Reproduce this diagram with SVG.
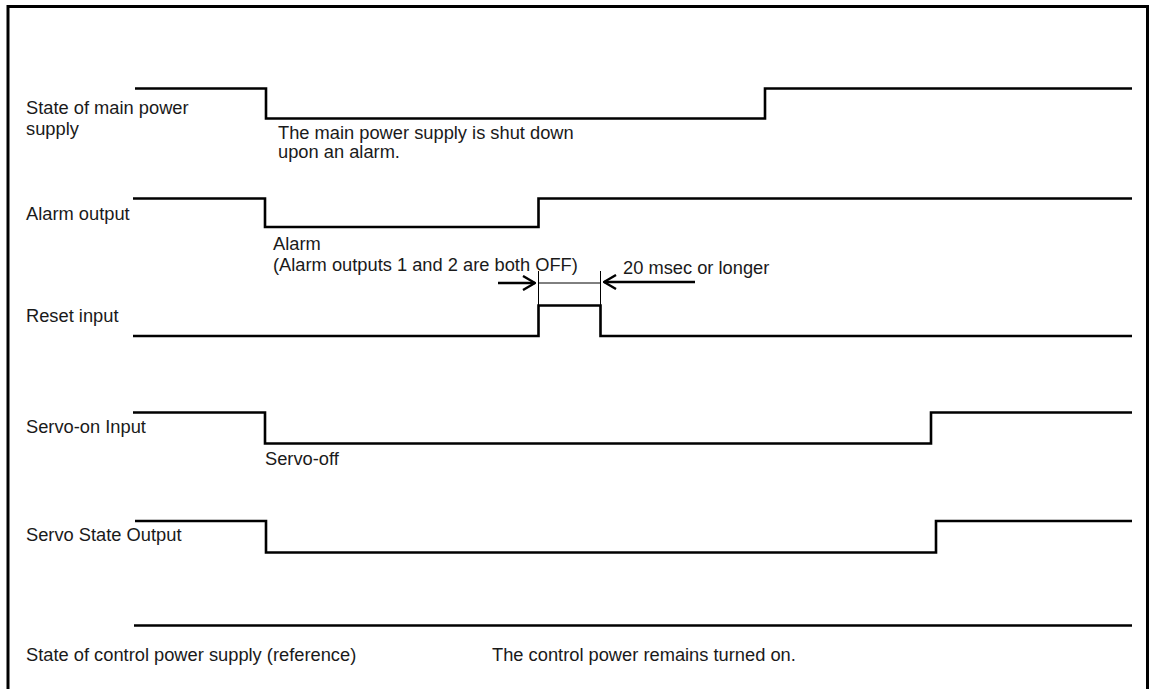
<svg xmlns="http://www.w3.org/2000/svg" width="1149" height="689" viewBox="0 0 1149 689">
<defs>
<marker id="chev" viewBox="0 0 14 16" refX="13" refY="8" markerWidth="14" markerHeight="16" markerUnits="userSpaceOnUse" orient="auto">
<polyline points="1,1 13,8 1,15" fill="none" stroke="#000" stroke-width="2.4"/>
</marker>
<style>
.lbl{font-family:"Liberation Sans",Arial,sans-serif;font-size:18.3px;fill:#1a1a1a}
.wave{fill:none;stroke:#000;stroke-width:2.6;stroke-linejoin:miter}
.thin{fill:none;stroke:#000;stroke-width:1}
.arr{fill:none;stroke:#000;stroke-width:2.4;marker-end:url(#chev)}
</style>
</defs>
<rect width="1149" height="689" fill="#fff"/>
<path d="M8,689 V6.5 H1147.5 V689" fill="none" stroke="#000" stroke-width="3"/>

<g id="main-power">
<path class="wave" d="M135,88.5 H266 V118.5 H765 V88.5 H1132"/>
<text class="lbl" x="26" y="114">State of main power</text>
<text class="lbl" x="26" y="134.5">supply</text>
<text class="lbl" x="278" y="138.5">The main power supply is shut down</text>
<text class="lbl" x="278" y="157.5">upon an alarm.</text>
</g>

<g id="alarm-output">
<path class="wave" d="M133,198.5 H265 V227 H538.5 V198.5 H1132"/>
<text class="lbl" x="26" y="220">Alarm output</text>
<text class="lbl" x="273" y="250">Alarm</text>
<text class="lbl" x="273" y="270.5">(Alarm outputs 1 and 2 are both OFF)</text>
</g>

<g id="reset-input">
<path class="wave" d="M133,336 H538.5 V305.5 H600.5 V336 H1132"/>
<text class="lbl" x="26" y="322">Reset input</text>
</g>

<g id="servo-on">
<path class="wave" d="M133,412.5 H265 V443.5 H931 V412.5 H1132"/>
<text class="lbl" x="26" y="433">Servo-on Input</text>
<text class="lbl" x="265" y="465">Servo-off</text>
</g>

<g id="servo-state">
<path class="wave" d="M135,521 H266 V552.5 H936 V521 H1132"/>
<text class="lbl" x="26" y="541">Servo State Output</text>
</g>

<g id="control-power">
<path class="wave" d="M134,625.5 H1132"/>
<text class="lbl" x="26" y="661">State of control power supply (reference)</text>
<text class="lbl" x="492" y="661">The control power remains turned on.</text>
</g>

<g id="connectors">
<line class="thin" x1="538.5" y1="271" x2="538.5" y2="305"/>
<line class="thin" x1="600.5" y1="271" x2="600.5" y2="305"/>
<line class="thin" x1="538.5" y1="283" x2="600.5" y2="283"/>
<line class="arr" x1="498" y1="283" x2="535" y2="283"/>
<line class="arr" x1="695" y1="282" x2="604" y2="282"/>
<text class="lbl" x="623" y="274">20 msec or longer</text>
</g>
</svg>
